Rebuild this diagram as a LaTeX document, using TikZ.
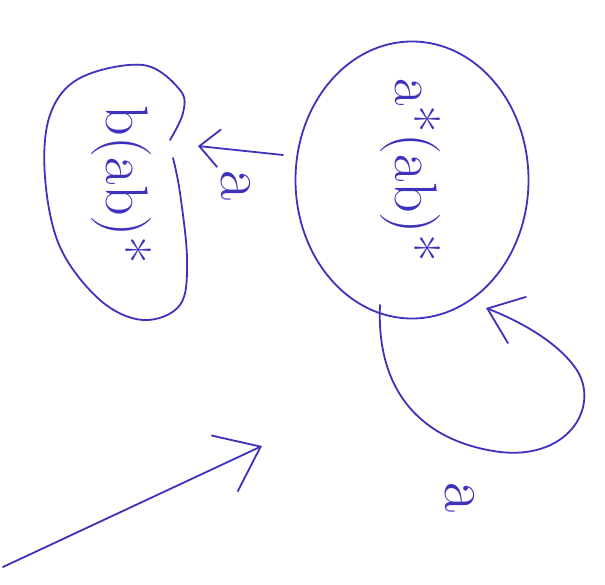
\documentclass[tikz,border=0pt]{standalone}
\usepackage{graphicx}
\usetikzlibrary{shapes.geometric,arrows.meta}
\definecolor{ink}{RGB}{62,50,188}
\begin{document}
\begin{tikzpicture}[x=1pt,y=-1pt,
  pen/.style={draw=ink, line width=1.8pt, line cap=round, line join=round},
  lbl/.style={text=ink, font=\fontsize{60}{60}\selectfont, inner sep=0pt},
  smalllbl/.style={text=ink, font=\fontsize{66}{66}\selectfont, inner sep=0pt, rotate=-90},
  barb/.style={-{Straight Barb[length=20pt,width=38pt,line width=1.8pt]}},
  bigbarb/.style={-{Straight Barb[length=32pt,width=50pt,line width=1.8pt]}},
  startbarb/.style={-{Straight Barb[length=40pt,width=62pt,line width=1.8pt]}}]
\useasboundingbox (0,0) rectangle (605,584);
\fill[white] (0,0) rectangle (605,584);

% state q0
\node[pen, ellipse, minimum width=233pt, minimum height=277pt, inner sep=0pt] (q0) at (412,180) {};
\node[lbl, rotate=-90] (t0) at (410,170) {a*(ab)*};

% state q1 (kidney outline)
\draw[pen] plot[smooth, tension=0.6] coordinates {(173,158) (180,193) (187,260) (180,305) (143,320) (100,300) (60,247) (45,177) (50,115) (80,78) (143,65) (180,90) (183,113) (170,140)};
\node[lbl, rotate=-90] (q1) at (121,185) {b(ab)*};

% transition q0 -> q1
\coordinate (a1s) at (283,155);
\coordinate (a1e) at (198,146);
\draw[pen, barb] (a1s) -- (a1e);
\node[smalllbl] (la1) at (236,186) {a};

% self loop on q0
\coordinate (l0) at (380,305);
\coordinate (le) at (486,308);
\draw[pen, bigbarb] (l0) .. controls (376,395) and (425,442) .. (500,452)
   .. controls (572,460) and (602,402) .. (574,366)
   .. controls (556,342) and (522,322) .. (le);
\node[smalllbl] (la2) at (460,498) {a};

% start arrow
\coordinate (s0) at (3,567);
\coordinate (s1) at (262,446);
\draw[pen, startbarb] (s0) -- (s1);
\end{tikzpicture}
\end{document}
